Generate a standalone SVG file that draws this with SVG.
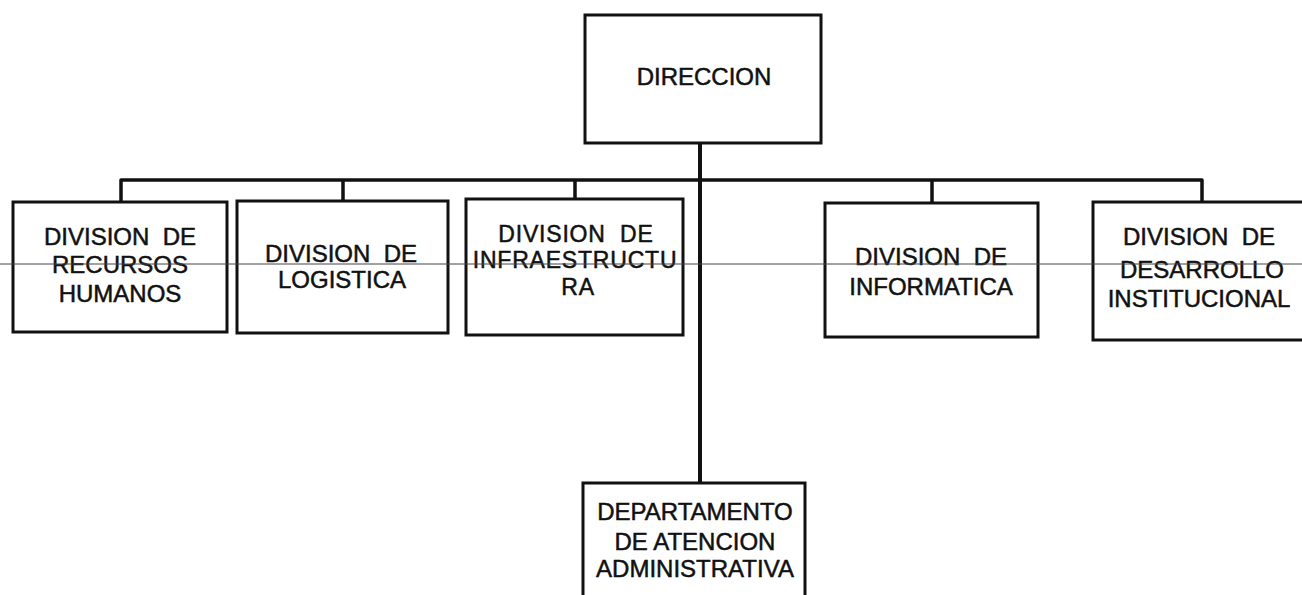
<svg xmlns="http://www.w3.org/2000/svg" width="1302" height="595" viewBox="0 0 1302 595">
<style>
.box{fill:#fff;stroke:#111;stroke-width:3}
.t{font-family:"Liberation Sans",Arial,sans-serif;font-size:24px;fill:#111;stroke:#111;stroke-width:0.5;text-anchor:middle}
.s{font-size:23px;letter-spacing:0.8px}
.c{fill:none;stroke:#111;stroke-width:3.5;stroke-linejoin:round}
.trunk{fill:none;stroke:#111;stroke-width:4}
</style>
<rect width="1302" height="595" fill="#fff"/>
<g id="connectors">
<path class="c" d="M121,202 V180 H1202 V202"/>
<path class="c" d="M343,180 V201"/>
<path class="c" d="M575,180 V199"/>
<path class="c" d="M932,180 V203"/>
<path class="trunk" d="M700,143 V483"/>
</g>
<g id="direccion">
<rect class="box" x="585" y="15" width="236" height="128"/>
<text class="t" x="704" y="85">DIRECCION</text>
</g>
<g id="rrhh">
<rect class="box" x="13" y="202" width="214" height="130"/>
<text class="t" x="120" y="245" xml:space="preserve">DIVISION  DE</text>
<text class="t" x="120" y="273">RECURSOS</text>
<text class="t" x="120" y="302">HUMANOS</text>
</g>
<g id="logistica">
<rect class="box" x="237" y="201" width="211" height="132"/>
<text class="t" x="341" y="262" xml:space="preserve">DIVISION  DE</text>
<text class="t" x="342" y="288">LOGISTICA</text>
</g>
<g id="infraestructura">
<rect class="box" x="466" y="199" width="217" height="136"/>
<text class="t s" x="576" y="242" xml:space="preserve">DIVISION  DE</text>
<text class="t s" x="575" y="268">INFRAESTRUCTU</text>
<text class="t s" x="578" y="295">RA</text>
</g>
<g id="informatica">
<rect class="box" x="825" y="203" width="213" height="134"/>
<text class="t" x="931" y="265" xml:space="preserve">DIVISION  DE</text>
<text class="t" x="931" y="295">INFORMATICA</text>
</g>
<g id="desarrollo">
<rect class="box" x="1093" y="202" width="215" height="138"/>
<text class="t" x="1199" y="245" xml:space="preserve">DIVISION  DE</text>
<text class="t" x="1202" y="278">DESARROLLO</text>
<text class="t" x="1199" y="307">INSTITUCIONAL</text>
</g>
<g id="departamento">
<rect class="box" x="583" y="483" width="222" height="120"/>
<text class="t" x="695" y="520">DEPARTAMENTO</text>
<text class="t" x="695" y="550">DE ATENCION</text>
<text class="t" x="695" y="577">ADMINISTRATIVA</text>
</g>
<line x1="0" y1="264" x2="1302" y2="264" stroke="#444" stroke-width="1"/>
</svg>
